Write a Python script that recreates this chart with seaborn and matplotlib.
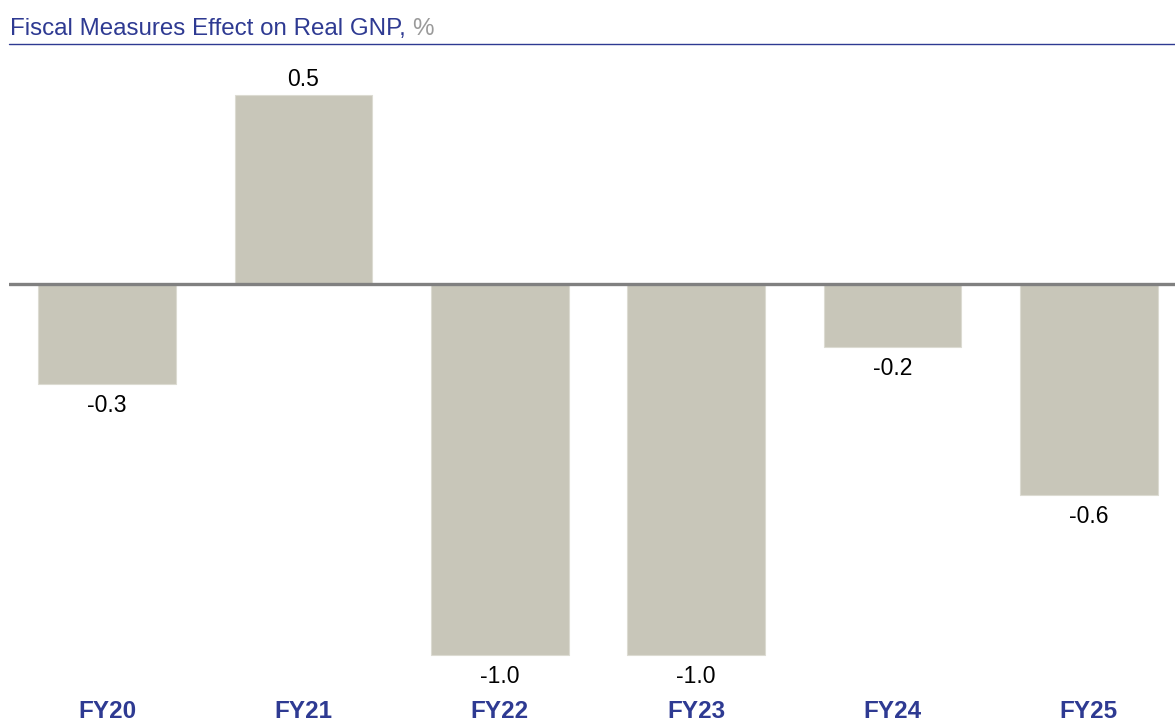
import matplotlib
matplotlib.use('Agg')
import matplotlib.pyplot as plt
import seaborn as sns
from matplotlib.lines import Line2D

years = ['FY20', 'FY21', 'FY22', 'FY23', 'FY24', 'FY25']
effect = [-0.27, 0.51, -1.0, -1.0, -0.17, -0.57]

BAR = '#C8C6B9'
NAVY = '#2E3A92'

sns.set_theme(style='white')
plt.rcParams['font.family'] = ['Liberation Sans', 'DejaVu Sans']

W, H = 1175, 725
fig = plt.figure(figsize=(W / 100, H / 100), dpi=100)
# axes placed in pixel terms so the bars line up with the reference
top_px, bot_px = 60, 690
ax = fig.add_axes([9 / W, 1 - bot_px / H, 1178 / W, (bot_px - top_px) / H])

sns.barplot(x=years, y=effect, color=BAR, saturation=1, width=0.7,
            edgecolor='#DCDBD2', linewidth=0.8, ax=ax)

zero_px = 284
scale = 371  # px per unit
ax.set_ylim(-(bot_px - zero_px) / scale, (zero_px - top_px) / scale)
ax.set_xlim(-0.5, 5.5)
ax.axhline(0, color='#808080', lw=2.4, zorder=5)

for i, v in enumerate(effect):
    off = 3 if v > 0 else -7
    ax.annotate(f'{v:.1f}', xy=(i, v), xytext=(0, off), textcoords='offset points',
                ha='center', va='bottom' if v > 0 else 'top', fontsize=16.5, color='black')

ax.set_yticks([])
ax.tick_params(axis='x', length=0, pad=7.5)
for lbl in ax.get_xticklabels():
    lbl.set_fontsize(17.5)
    lbl.set_fontweight('bold')
    lbl.set_color(NAVY)
for s in ax.spines.values():
    s.set_visible(False)
ax.set_xlabel('')
ax.set_ylabel('')

# title with grey unit
t1 = fig.text(10 / W, 1 - 35 / H, 'Fiscal Measures Effect on Real GNP, ',
              fontsize=17.4, color=NAVY, va='baseline', ha='left')
t2 = fig.text(0, 1 - 35 / H, '%', fontsize=17.4, color='#9A9A9A',
              va='baseline', ha='left')
fig.canvas.draw()
bb = t1.get_window_extent()
t2.set_x(bb.x1 / W)
fig.add_artist(Line2D([9 / W, 1], [1 - 44 / H] * 2, color=NAVY, lw=1.0))

fig.savefig('out.png', dpi=100)
